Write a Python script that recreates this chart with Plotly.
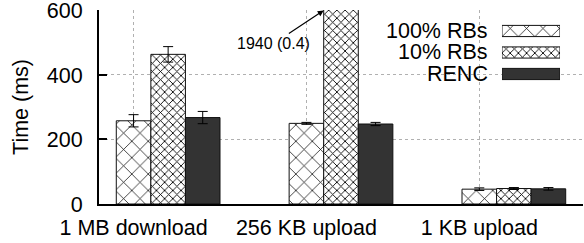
import plotly.graph_objects as go

categories = ["1 MB download", "256 KB upload", "1 KB upload"]
series_names = ["100% RBs", "10% RBs", "RENC"]
vals_100 = [258, 250, 46]
err_100 = [19, 3, 4]
vals_10 = [464, 1940, 48]
err_10 = [24, 0.4, 3]
vals_renc = [268, 248, 47]
err_renc = [19, 5, 4]
annot_label = "1940 (0.4)"

series_vals = [vals_100, vals_10, vals_renc]
series_errs = [err_100, err_10, err_renc]
patterns = [
    dict(shape="x", size=11.6, solidity=0.12, fgcolor="black", bgcolor="white", fillmode="replace"),
    dict(shape="x", size=5.8, solidity=0.28, fgcolor="black", bgcolor="white", fillmode="replace"),
    None,
]
colors = ["white", "white", "#333333"]

FONT = "Liberation Sans, Arial, sans-serif"
FS = 21.5
GAP = 2
NS = len(series_names)
step = NS + GAP

fig = go.Figure()
for si in range(NS):
    xs = [ci * step + si for ci in range(len(categories))]
    marker = dict(color=colors[si], line=dict(color="#111111", width=1))
    if patterns[si]:
        marker["pattern"] = patterns[si]
    fig.add_trace(go.Bar(
        x=xs, y=series_vals[si], width=1, name=series_names[si],
        marker=marker,
        error_y=dict(type="data", array=series_errs[si], color="black", thickness=1, width=5),
        showlegend=False,
    ))

# legend samples on an overlay axis
for si in range(NS):
    marker = dict(color=colors[si], line=dict(color="#111111", width=1))
    if patterns[si]:
        marker["pattern"] = patterns[si]
    fig.add_trace(go.Bar(
        x=[1], y=[si], base=0, orientation="h", width=0.52,
        marker=marker, xaxis="x3", yaxis="y3", showlegend=False, hoverinfo="skip",
    ))
    fig.add_annotation(
        x=0.8057, xref="paper", y=si, yref="y3", text=series_names[si],
        showarrow=False, xanchor="right", yanchor="middle", borderpad=0,
        font=dict(family=FONT, size=FS, color="black"),
    )

tickvals = [ci * step for ci in range(len(categories))]
grid = dict(showgrid=True, gridcolor="#b0b0b0", griddash="dot", gridwidth=1)

fig.update_layout(
    width=584, height=243,
    margin=dict(l=99, r=1, t=10, b=39, autoexpand=False),
    paper_bgcolor="white", plot_bgcolor="white",
    barmode="overlay",
    font=dict(family=FONT, size=FS, color="black"),
    xaxis=dict(range=[-1, 13], tickvals=tickvals, ticktext=categories,
               ticks="", showline=True, linecolor="black", linewidth=2,
               zeroline=False, tickfont=dict(size=FS), automargin=False,
               ticklabelstandoff=3, ticklabeloverflow="allow", **grid),
    xaxis2=dict(overlaying="x", matches="x", side="top", anchor="y",
                tickvals=tickvals, ticks="inside", ticklen=8, tickcolor="black",
                showticklabels=False, showgrid=False, showline=False, zeroline=False,
                automargin=False),
    yaxis=dict(range=[0, 601.5], tickvals=[0, 200, 400, 600], ticks="inside",
               ticklen=8, tickcolor="black", tickwidth=1.5,
               showline=True, linecolor="black", linewidth=2, zeroline=False,
               title=dict(text="Time (ms)", font=dict(size=FS), standoff=12),
               tickfont=dict(size=FS), automargin=False, ticklabelstandoff=10,
               ticklabeloverflow="allow", **grid),
    yaxis2=dict(overlaying="y", matches="y", side="right", anchor="x",
                tickvals=[0, 200, 400, 600], ticks="inside", ticklen=7, tickcolor="black",
                tickwidth=1.5, showticklabels=False, showgrid=False, showline=False, zeroline=False,
                automargin=False),
    xaxis3=dict(domain=[0.8326, 0.9525], range=[0, 1], anchor="y3", visible=False),
    yaxis3=dict(domain=[0.6147, 0.9472], range=[2.5, -0.5], anchor="x3", visible=False),
)

# annotation for the clipped bar
ci_clip = 1
fig.add_annotation(
    x=ci_clip * step + 1 - 0.5, y=600, xref="x", yref="y",
    text=annot_label, showarrow=True, arrowhead=2, arrowsize=1, arrowwidth=1.2,
    arrowcolor="black", ax=-50, ay=33,
    font=dict(family=FONT, size=16, color="black"),
)

fig.write_html("out.html", config={"displayModeBar": False},
               post_script="document.body.style.margin='0';document.body.style.overflow='hidden';")
